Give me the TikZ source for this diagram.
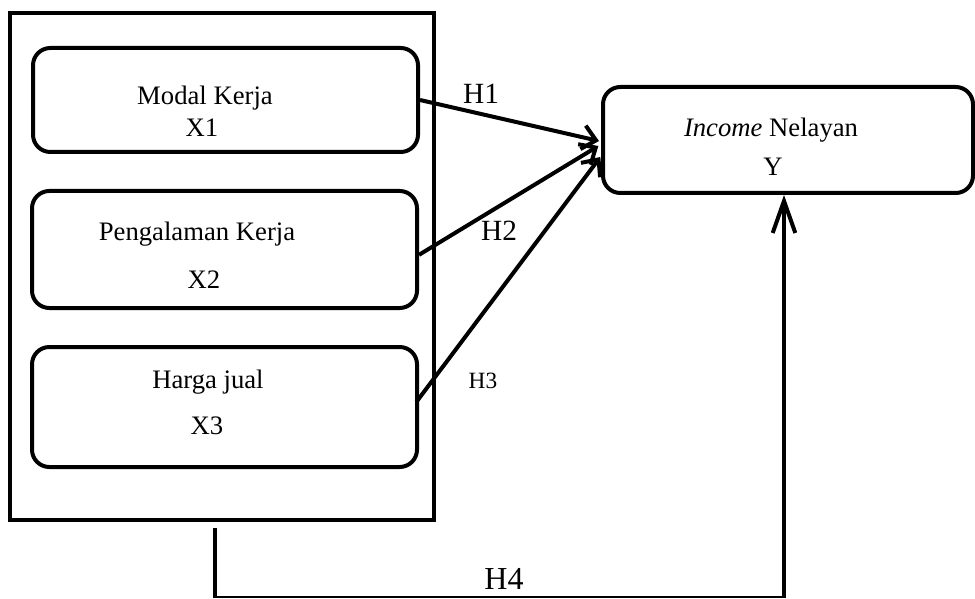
\documentclass[tikz,border=0pt]{standalone}
\usepackage{fontspec}
\setmainfont{Liberation Serif}
\usetikzlibrary{arrows.meta}
\begin{document}
\begin{tikzpicture}[x=0.75pt,y=-0.75pt,
  rbox/.style={draw=black,line width=3pt,rounded corners=13pt,inner sep=0pt},
  outerbox/.style={draw=black,line width=3pt,inner sep=0pt},
  txt/.style={anchor=base,inner sep=0pt,font=\fontsize{20pt}{24pt}\selectfont},
  hlab/.style={anchor=base,inner sep=0pt,font=\fontsize{22pt}{26pt}\selectfont},
  hlabsmall/.style={anchor=base,inner sep=0pt,font=\fontsize{17.5pt}{21pt}\selectfont},
  hlabbig/.style={anchor=base,inner sep=0pt,font=\fontsize{24pt}{28pt}\selectfont},
  conn/.style={line width=3pt,-{Straight Barb[length=10pt,width=18pt,line width=3pt]}},
  upconn/.style={line width=3pt,-{Straight Barb[length=24pt,width=17pt,line width=3pt]}},
  thinline/.style={line width=1.6pt}]
\useasboundingbox (0,0) rectangle (975,599);
% outer frame
\node[outerbox,minimum width=318pt,minimum height=380.25pt] (outer) at (222,266.5) {};
% inner boxes
\node[rbox,minimum width=288.75pt,minimum height=78pt] (x1) at (225.5,100) {};
\node[rbox,minimum width=288.75pt,minimum height=87.75pt] (x2) at (224.5,249.5) {};
\node[rbox,minimum width=288.75pt,minimum height=90pt] (x3) at (224.5,407) {};
\node[rbox,minimum width=277.5pt,minimum height=79.5pt] (y) at (788,140) {};
% texts
\node[txt] (t1a) at (205,105) {Modal Kerja};
\node[txt] (t1b) at (202,137) {X1};
\node[txt] (t2a) at (197,240) {Pengalaman Kerja};
\node[txt] (t2b) at (204,288) {X2};
\node[txt] (t3a) at (208,388) {Harga jual};
\node[txt] (t3b) at (207,434) {X3};
\node[txt] (tya) at (771,137) {\textit{Income} Nelayan};
\node[txt] (tyb) at (773,176) {Y};
% labels
\node[hlab] (h1) at (481,104) {H1};
\node[hlab] (h2) at (499,240) {H2};
\node[hlabsmall] (h3) at (483,388) {H3};
\node[hlabbig] (h4) at (504,589) {H4};
% connectors
\draw[conn] (x1.east) -- ([yshift=-0.75pt,xshift=-1.5pt]y.west);
\draw[conn] ([yshift=-4pt]x2.east) -- ([yshift=-4.5pt,xshift=-2pt]y.west);
\draw[conn] ([yshift=3.75pt,xshift=-2pt]x3.east) -- ([yshift=-12.75pt,xshift=-0.5pt]y.west);
% H4 path
\coordinate (h4s) at (215,528);
\coordinate (h4c) at (215,597);
\coordinate (h4d) at (784,597);
\draw[line width=3pt] (h4s) -- ([yshift=-0.8pt]h4c);
\draw[thinline] (h4c) -- (h4d);
\draw[upconn] ([yshift=-0.8pt]h4d) -- (h4d |- y.south);
\end{tikzpicture}
\end{document}
